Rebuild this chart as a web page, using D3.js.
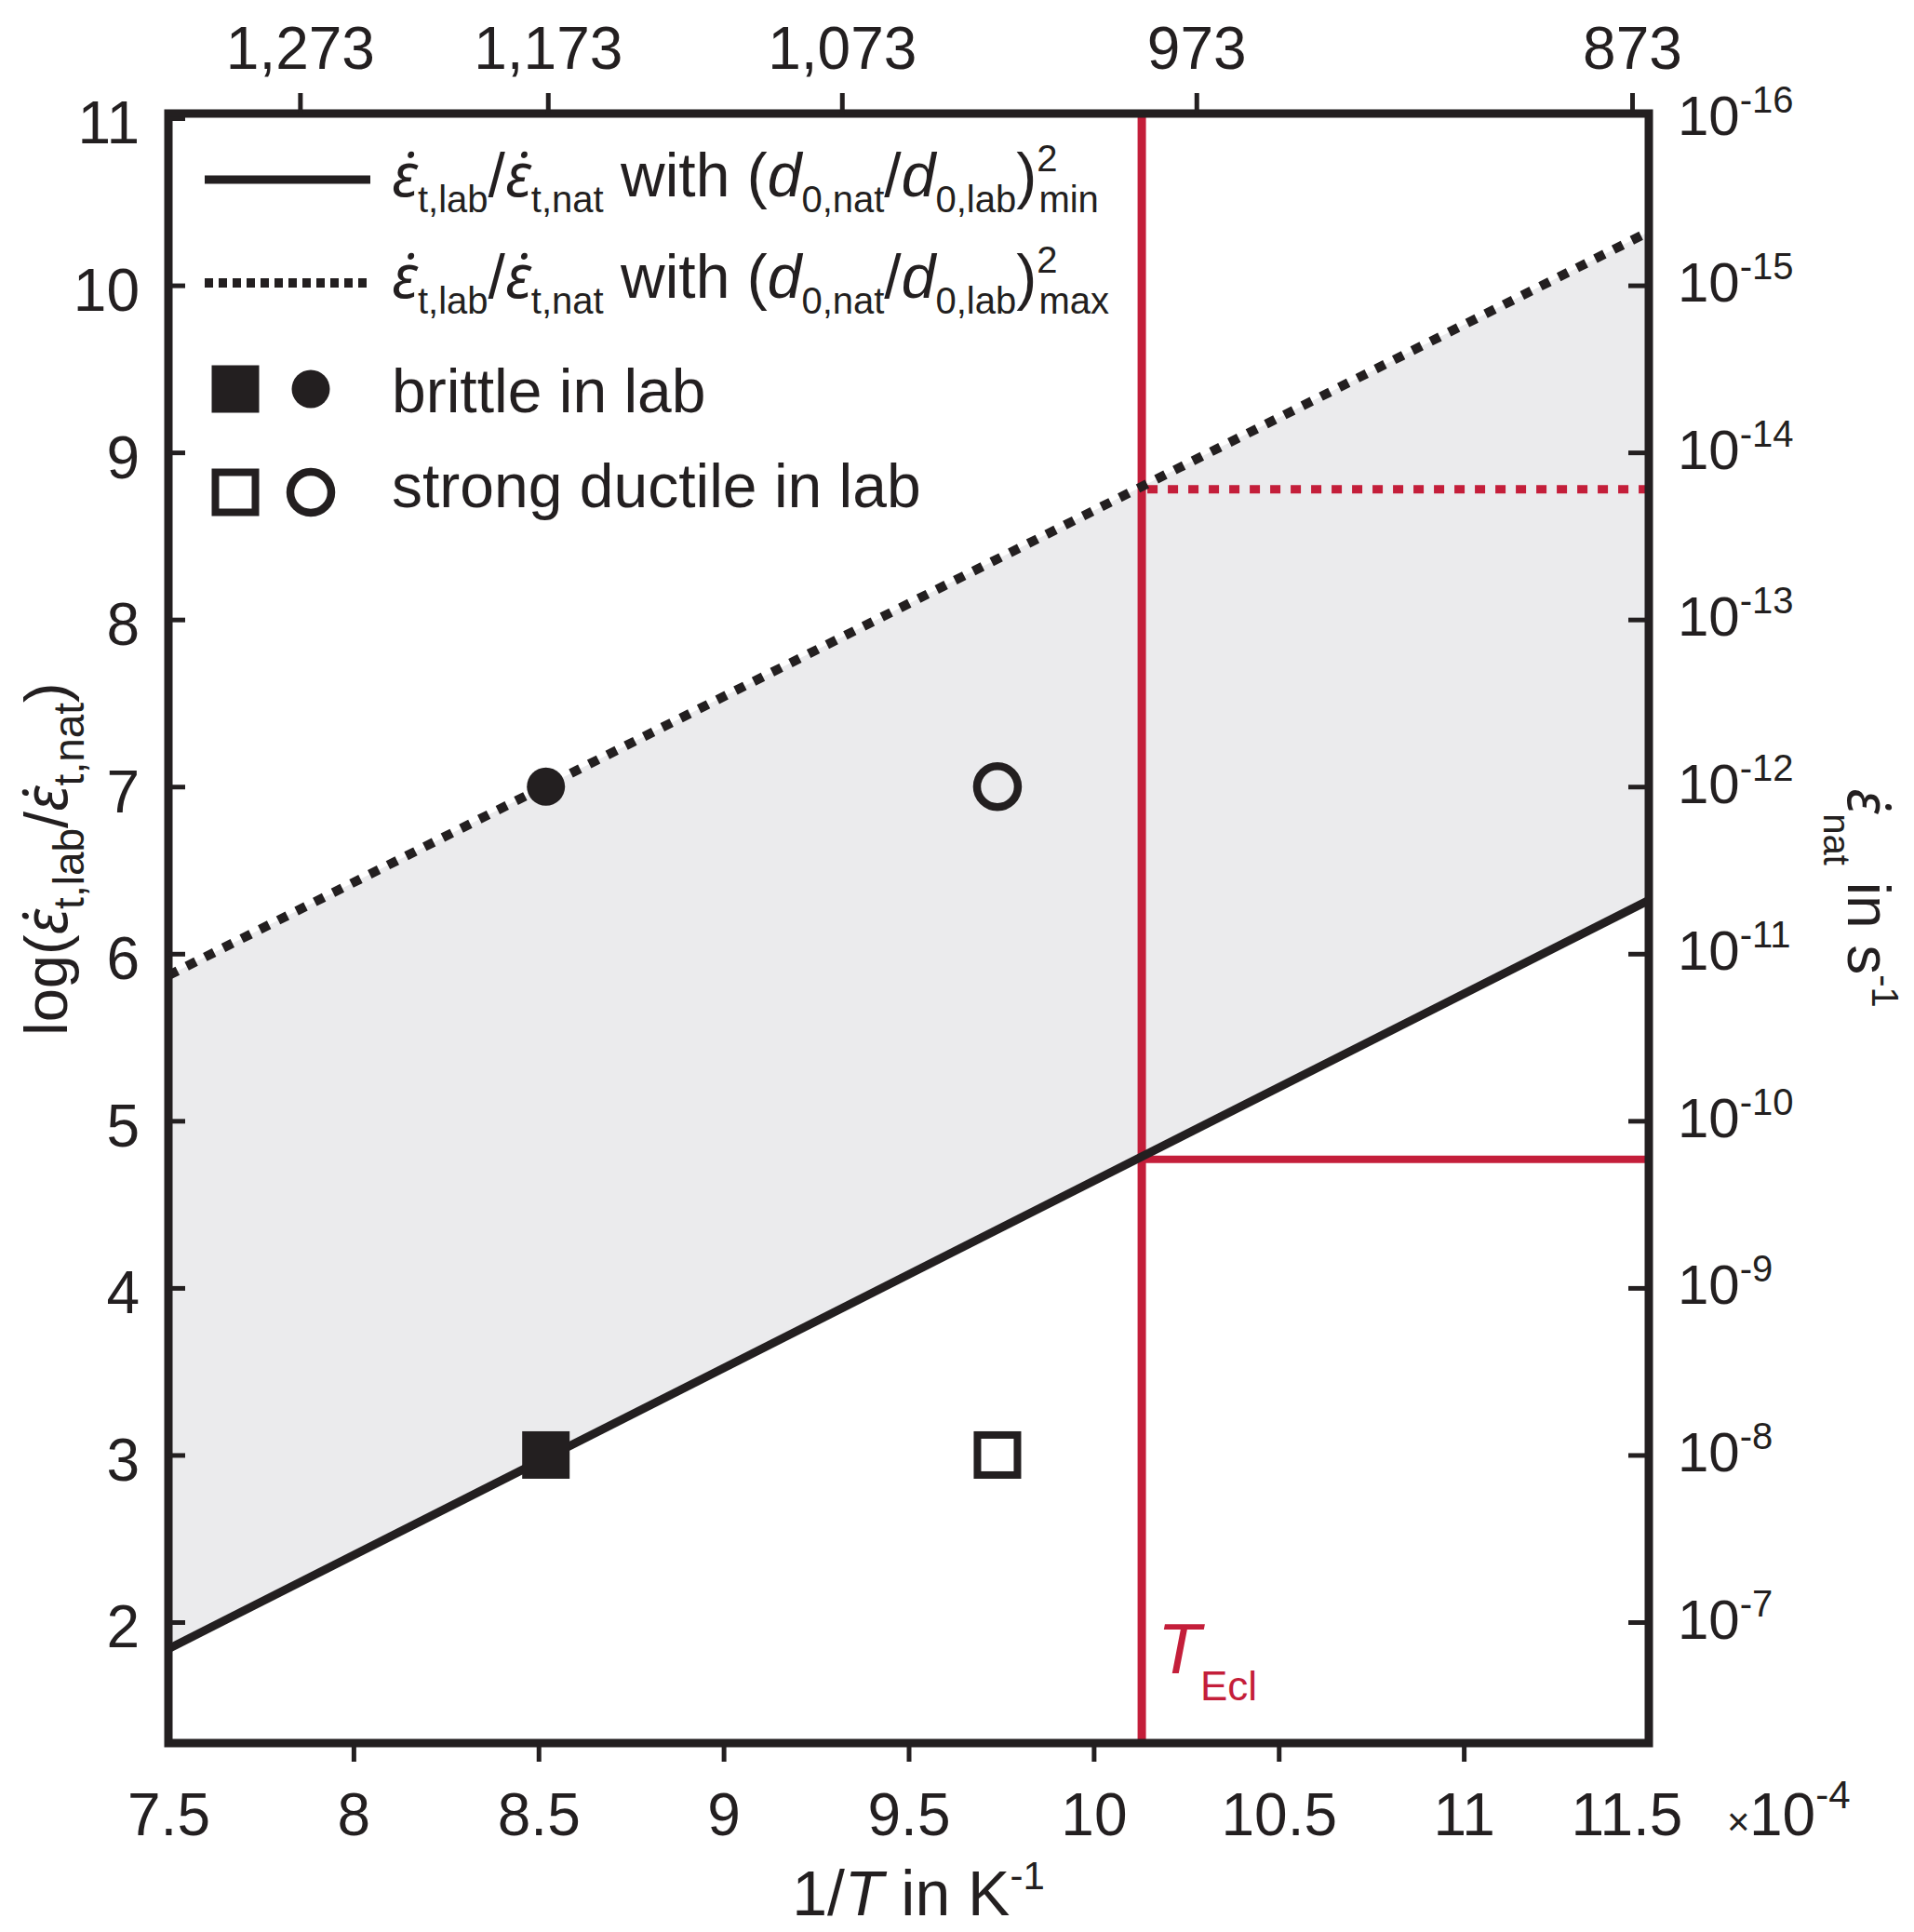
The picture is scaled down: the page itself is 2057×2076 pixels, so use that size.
<!DOCTYPE html>
<html><head><meta charset="utf-8">
<script src="https://cdn.jsdelivr.net/npm/d3@7"></script>
<style>
html,body{margin:0;padding:0;background:#fff;}
svg{display:block;}
text{font-family:"Liberation Sans", Arial, Helvetica, sans-serif; fill:#231f20;}
tspan.eps{font-family:"Noto Sans", "DejaVu Sans", sans-serif;}
</style></head><body>
<svg id="chart" width="2057" height="2076"></svg>
<script>
// ---------- data ----------
const xTickValues = [7.5, 8, 8.5, 9, 9.5, 10, 10.5, 11, 11.5];
const xTickLabels = ["7.5", "8", "8.5", "9", "9.5", "10", "10.5", "11", "11.5"];
const yTickValues = [2, 3, 4, 5, 6, 7, 8, 9, 10, 11];
const yTickLabels = ["2", "3", "4", "5", "6", "7", "8", "9", "10", "11"];
const topTempK = [1273, 1173, 1073, 973, 873];
const topTickLabels = ["1,273", "1,173", "1,073", "973", "873"];
const rightTickExponents = ["-7", "-8", "-9", "-10", "-11", "-12", "-13", "-14", "-15", "-16"];
const boundX = [7.5, 11.5];
const minRatioY = [1.84, 6.32];
const maxRatioY = [5.87, 10.32];
const brittleX = [8.52, 8.52];
const brittleY = [3, 7];
const brittleShape = ["square", "circle"];
const ductileX = [9.74, 9.74];
const ductileY = [3, 7];
const ductileShape = ["square", "circle"];
const tEclInv = 10.13;
const natMinY = 4.77;
const natMaxY = 8.78;

// ---------- setup ----------
const INK = "#231f20", RED = "#c41e3a", FILL = "#ebebed";
const svg = d3.select("#chart");
const L = 181, R = 1772, T = 122, B = 1873;
const x = d3.scaleLinear().domain([7.5, 11.5]).range([L, R]);
const y = d3.scaleLinear().domain([1.276, 11.028]).range([B, T]);

svg.append("defs").append("clipPath").attr("id", "plotclip")
  .append("rect").attr("x", L).attr("y", T).attr("width", R - L).attr("height", B - T);

const plot = svg.append("g").attr("clip-path", "url(#plotclip)");

// shaded band
const band = boundX.map((v, i) => ({x: v, lo: minRatioY[i], hi: maxRatioY[i]}));
plot.append("path").datum(band)
  .attr("d", d3.area().x(d => x(d.x)).y0(d => y(d.lo)).y1(d => y(d.hi)))
  .attr("fill", FILL);

// red lines
plot.append("line").attr("x1", x(tEclInv)).attr("x2", x(tEclInv)).attr("y1", T).attr("y2", B)
  .attr("stroke", RED).attr("stroke-width", 9);
plot.append("line").attr("x1", x(tEclInv)).attr("x2", x(11.5)).attr("y1", y(natMinY)).attr("y2", y(natMinY))
  .attr("stroke", RED).attr("stroke-width", 8);
plot.append("line").attr("x1", x(tEclInv) + 6).attr("x2", x(11.5)).attr("y1", y(natMaxY)).attr("y2", y(natMaxY))
  .attr("stroke", RED).attr("stroke-width", 9).attr("stroke-dasharray", "11,11");

// black lines
const lineGen = d3.line().x(d => x(d[0])).y(d => y(d[1]));
plot.append("path").datum(boundX.map((v, i) => [v, minRatioY[i]]))
  .attr("d", lineGen).attr("fill", "none").attr("stroke", INK).attr("stroke-width", 9);
plot.append("path").datum(boundX.map((v, i) => [v, maxRatioY[i]]))
  .attr("d", lineGen).attr("fill", "none").attr("stroke", INK).attr("stroke-width", 10)
  .attr("stroke-dasharray", "11,11");

// markers
function marker(g, shape, filled, cx, cy) {
  if (shape === "square") {
    const s = filled ? 51 : 43;
    g.append("rect").attr("x", cx - s / 2).attr("y", cy - s / 2).attr("width", s).attr("height", s)
      .attr("fill", filled ? INK : "#fff").attr("stroke", filled ? "none" : INK).attr("stroke-width", 8);
  } else {
    const r = filled ? 20.5 : 22;
    g.append("circle").attr("cx", cx).attr("cy", cy).attr("r", r)
      .attr("fill", filled ? INK : "none").attr("stroke", filled ? "none" : INK).attr("stroke-width", 8.5);
  }
}
const mk = svg.append("g");
brittleX.forEach((v, i) => marker(mk, brittleShape[i], true, x(v), y(brittleY[i])));
ductileX.forEach((v, i) => marker(mk, ductileShape[i], false, x(v), y(ductileY[i])));

// frame
svg.append("rect").attr("x", L).attr("y", T).attr("width", R - L).attr("height", B - T)
  .attr("fill", "none").attr("stroke", INK).attr("stroke-width", 9);

// ---------- axes ----------
function styleAxis(g, size) {
  g.select(".domain").remove();
  g.selectAll(".tick line").attr("stroke", INK).attr("stroke-width", 5);
  g.selectAll(".tick text").attr("fill", INK).style("font-size", size + "px")
    .style("font-family", '"Liberation Sans", Arial, sans-serif');
}
const gB = svg.append("g").attr("transform", `translate(0,${B})`)
  .call(d3.axisBottom(x).tickValues(xTickValues).tickFormat((d, i) => xTickLabels[i]).tickSize(20).tickPadding(34));
styleAxis(gB, 64);
gB.selectAll(".tick line").filter(d => d === 7.5 || d === 11.5).remove();
gB.selectAll(".tick text").filter(d => d === 11.5).attr("dx", -24);

const gL = svg.append("g").attr("transform", `translate(${L},0)`)
  .call(d3.axisLeft(y).tickValues(yTickValues).tickFormat((d, i) => yTickLabels[i]).tickSize(-18).tickPadding(31));
styleAxis(gL, 64);
gL.selectAll(".tick text").attr("dy", "0.42em");

const gT = svg.append("g").attr("transform", `translate(0,${T})`)
  .call(d3.axisTop(x).tickValues(topTempK.map(t => 1e4 / t)).tickFormat((d, i) => topTickLabels[i]).tickSize(22).tickPadding(26));
styleAxis(gT, 64);

const gR = svg.append("g").attr("transform", `translate(${R},0)`)
  .call(d3.axisRight(y).tickValues(yTickValues).tickFormat(() => "").tickSize(-22).tickPadding(31));
styleAxis(gR, 60);
gR.selectAll(".tick text").each(function(d, i) {
  const t = d3.select(this).attr("dy", null).attr("y", 17);
  t.append("tspan").text("10");
  t.append("tspan").text(rightTickExponents[i]).attr("dy", -24).style("font-size", "40px");
});
gR.selectAll(".tick line").filter(d => d === 11).remove();

// ---------- rich text helper ----------
// parts: {t, k:'sub'|'sup'|undefined, i:italic, cls, dx}
function rich(parent, parts, o) {
  const g = parent.append("g");
  if (o.transform) g.attr("transform", o.transform);
  const t = g.append("text").attr("x", o.x).attr("y", o.y)
    .style("font-size", o.size + "px");
  if (o.anchor) t.attr("text-anchor", o.anchor);
  if (o.fill) t.style("fill", o.fill);
  let cur = 0;
  parts.forEach(p => {
    const small = p.k === "sub" || p.k === "sup";
    const target = p.k === "sub" ? o.subDy : p.k === "sup" ? -o.supDy : 0;
    const ts = t.append("tspan").text(p.t);
    if (target - cur !== 0) ts.attr("dy", target - cur);
    cur = target;
    if (p.dx) ts.attr("dx", p.dx);
    ts.style("font-size", (small ? (o.small || 40) : o.size) + "px");
    if (p.i) ts.style("font-style", "italic");
    if (p.cls) ts.attr("class", p.cls);
  });
  return t;
}
// strain rate symbol: epsilon with combining dot above
const EPSDOT = "\u03B5\u0307";
const E = {t: EPSDOT, i: true, cls: "eps"};

// axis titles
rich(svg, [{t: "1/"}, {t: "T", i: true}, {t: " in K"}, {t: "-1", k: "sup"}],
  {x: 987, y: 2058, size: 68, anchor: "middle", small: 42, supDy: 28, subDy: 0});
rich(svg, [{t: "\u00D7"}],
  {x: 1856, y: 1972, size: 42, subDy: 0, supDy: 0});
rich(svg, [{t: "10"}, {t: "-4", k: "sup"}],
  {x: 1880, y: 1972, size: 64, small: 42, supDy: 29, subDy: 0});

rich(svg, [{t: "log("}, E, {t: "t,lab", k: "sub"}, {t: "/"}, E, {t: "t,nat", k: "sub"}, {t: ")"}],
  {x: 0, y: 0, size: 65, small: 46, subDy: 18, supDy: 0, anchor: "middle", transform: "translate(72,923) rotate(-90)"});

rich(svg, [E, {t: "nat", k: "sub"}, {t: " in s"}, {t: "-1", k: "sup"}],
  {x: 0, y: 0, size: 64, small: 40, subDy: 26, supDy: 26, anchor: "middle", transform: "translate(1986,965) rotate(90)"});

// T_Ecl
svg.append("text").attr("x", 1244).attr("y", 1798).text("T")
  .style("font-size", "76px").style("font-style", "italic").style("fill", RED);
svg.append("text").attr("x", 1290).attr("y", 1827).text("Ecl")
  .style("font-size", "44px").style("fill", RED);

// ---------- legend ----------
const lg = svg.append("g");
lg.append("line").attr("x1", 220).attr("x2", 398).attr("y1", 193).attr("y2", 193)
  .attr("stroke", INK).attr("stroke-width", 9);
lg.append("line").attr("x1", 220).attr("x2", 398).attr("y1", 304).attr("y2", 304)
  .attr("stroke", INK).attr("stroke-width", 10).attr("stroke-dasharray", "9,6");
marker(lg, "square", true, 253, 418);
marker(lg, "circle", true, 334, 418);
marker(lg, "square", false, 253, 529);
marker(lg, "circle", false, 334, 529);

function ratioParts(which) {
  return [E, {t: "t,lab", k: "sub"}, {t: "/"}, E, {t: "t,nat", k: "sub"},
    {t: " with ("}, {t: "d", i: true}, {t: "0,nat", k: "sub"}, {t: "/"}, {t: "d", i: true},
    {t: "0,lab", k: "sub"}, {t: ")"}, {t: "2", k: "sup"}, {t: which, k: "sub", dx: -20}];
}
rich(lg, ratioParts("min"), {x: 421, y: 211, size: 66, small: 40, subDy: 17, supDy: 27});
rich(lg, ratioParts("max"), {x: 421, y: 320, size: 66, small: 40, subDy: 17, supDy: 27});
rich(lg, [{t: "brittle in lab"}], {x: 421, y: 443, size: 66, subDy: 0, supDy: 0});
rich(lg, [{t: "strong ductile in lab"}], {x: 421, y: 545, size: 66, subDy: 0, supDy: 0});
</script>
</body></html>
